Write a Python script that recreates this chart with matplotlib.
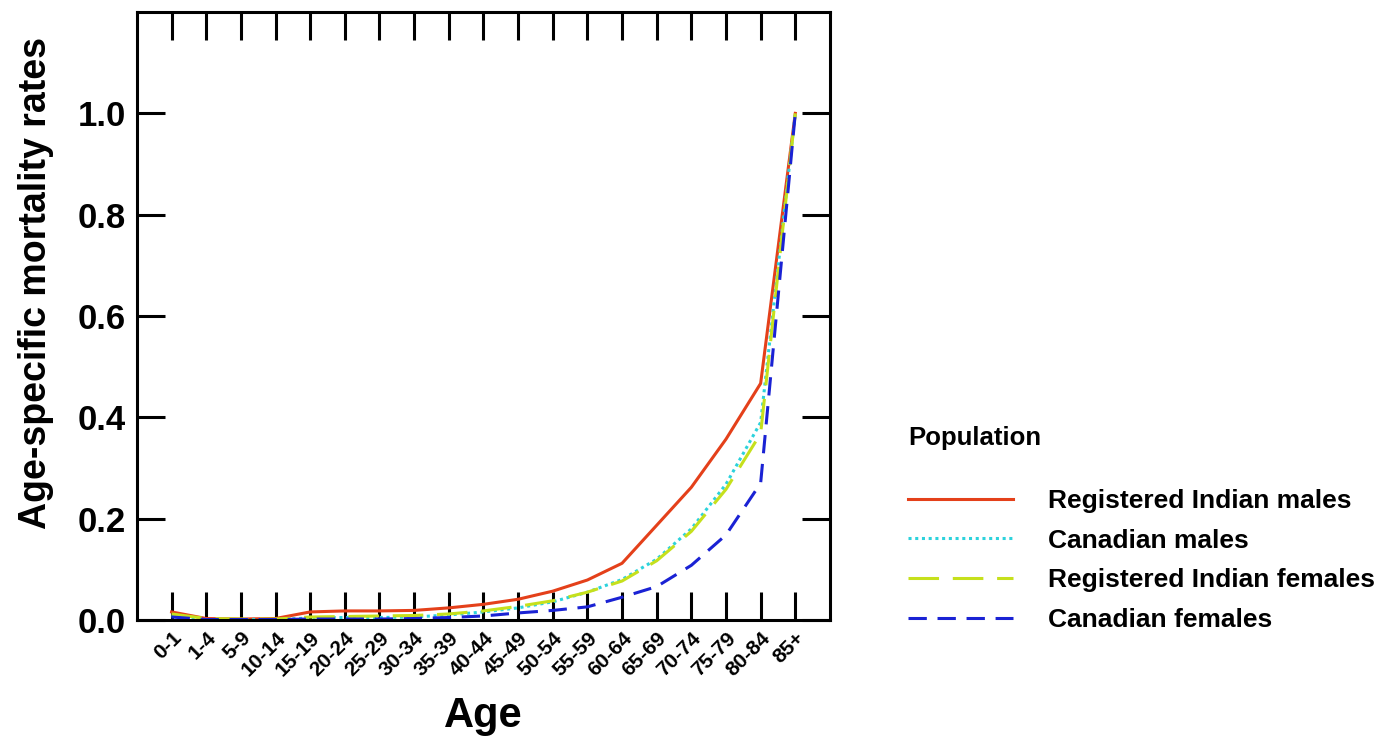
import matplotlib
matplotlib.use("Agg")
import matplotlib.pyplot as plt

ages = ["0-1", "1-4", "5-9", "10-14", "15-19", "20-24", "25-29", "30-34", "35-39",
        "40-44", "45-49", "50-54", "55-59", "60-64", "65-69", "70-74", "75-79",
        "80-84", "85+"]
ri_males = [0.016, 0.003, 0.002, 0.003, 0.016, 0.018, 0.018, 0.019, 0.024, 0.031,
            0.041, 0.057, 0.079, 0.112, 0.187, 0.262, 0.357, 0.467, 1.0]
can_males = [0.008, 0.001, 0.001, 0.001, 0.004, 0.005, 0.005, 0.006, 0.010, 0.016,
             0.024, 0.036, 0.055, 0.080, 0.120, 0.180, 0.268, 0.390, 1.0]
ri_females = [0.012, 0.003, 0.002, 0.002, 0.006, 0.007, 0.008, 0.009, 0.012, 0.018,
              0.027, 0.038, 0.055, 0.077, 0.117, 0.175, 0.258, 0.368, 1.0]
can_females = [0.006, 0.001, 0.001, 0.001, 0.002, 0.002, 0.002, 0.003, 0.005, 0.008,
               0.014, 0.019, 0.026, 0.045, 0.066, 0.108, 0.168, 0.270, 1.0]
series = ["Registered Indian males", "Canadian males",
          "Registered Indian females", "Canadian females"]

plt.rcParams["font.family"] = ["Liberation Sans", "DejaVu Sans"]
plt.rcParams["font.weight"] = "bold"

fig = plt.figure(figsize=(13.86, 7.37), dpi=100)
ax = fig.add_axes([0.0988, 0.1587, 0.5000, 0.825])

x = list(range(len(ages)))
ax.plot(x, ri_males, color="#e4401a", lw=2.2, ls="-", label=series[0])
ax.plot(x, can_males, color="#2cd2dc", lw=2.2, ls=(0, (1, 1.2)), label=series[1])
ax.plot(x, ri_females, color="#c6e01c", lw=2.2, ls=(0, (10, 4.5)), label=series[2])
ax.plot(x, can_females, color="#1a22d4", lw=2.2, ls=(0, (6, 3.5)), label=series[3])

ax.set_xlim(-1, 19)
ax.set_ylim(0, 1.2)
ax.set_xticks(x)
ax.set_xticklabels(ages, rotation=45, ha="right", rotation_mode="anchor",
                   fontsize=15, fontweight="bold")
ax.set_yticks([0.0, 0.2, 0.4, 0.6, 0.8, 1.0])
ax.set_yticklabels(["0.0", "0.2", "0.4", "0.6", "0.8", "1.0"],
                   fontsize=25, fontweight="bold")
ax.tick_params(axis="both", direction="in", length=20, width=2.2,
               top=True, right=True, color="black")
ax.tick_params(axis="x", pad=6)
ax.tick_params(axis="y", pad=8)
for s in ax.spines.values():
    s.set_linewidth(2.2)

ax.set_xlabel("Age", fontsize=30, fontweight="bold", labelpad=12)
ax.set_ylabel("Age-specific mortality rates", fontsize=27, fontweight="bold")
ax.yaxis.set_label_coords(-0.12, 0.554)

fig.text(908 / 1386, 1 - 438 / 737, "Population", fontsize=18.5, fontweight="bold",
         va="center", ha="left")
ax.legend(loc="upper left", bbox_to_anchor=(884 / 1386, 1 - 465 / 737),
          bbox_transform=fig.transFigure, frameon=False,
          handlelength=4.0, handletextpad=1.3, labelspacing=0.6,
          prop={"weight": "bold", "size": 19})

fig.savefig("out.png", dpi=100, facecolor="white")
